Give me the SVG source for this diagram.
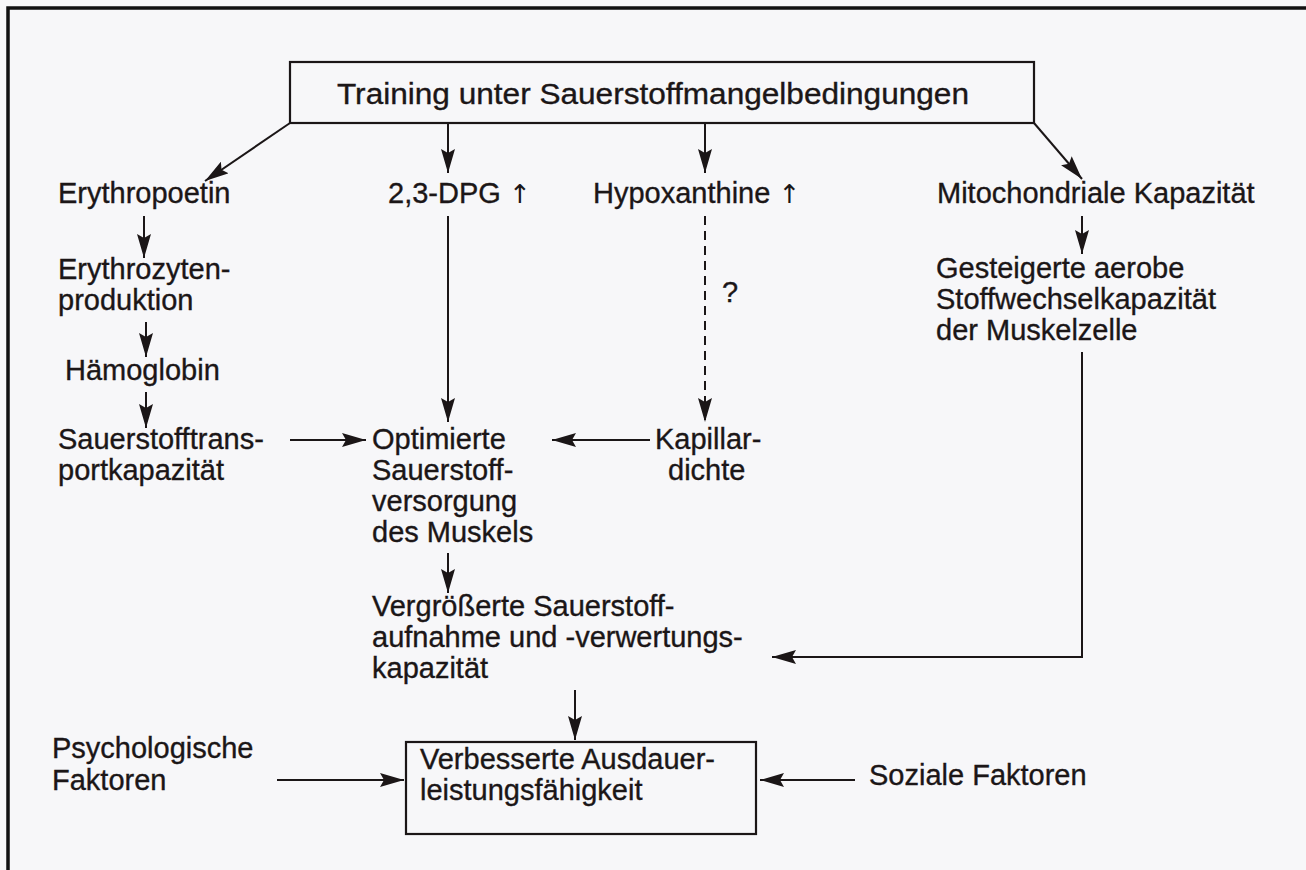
<svg xmlns="http://www.w3.org/2000/svg" width="1306" height="870" viewBox="0 0 1306 870">
<style>
text{font-family:"Liberation Sans",Arial,sans-serif;font-size:29px;fill:#1b1617;stroke:#1b1617;stroke-width:0.35}
.arr{font-family:"DejaVu Sans","Liberation Sans",sans-serif;font-size:26px;stroke-width:0}
.ln{stroke:#1b1617;stroke-width:2;fill:none}
.dash{stroke-dasharray:9 6}
.box{fill:none;stroke:#1b1617;stroke-width:2.2}
</style>
<defs>
<marker id="ah" viewBox="0 0 24 14" refX="24" refY="7" markerWidth="24" markerHeight="14" markerUnits="userSpaceOnUse" orient="auto">
<path d="M0,0 L24,7 L0,14 L4,7 z" fill="#1b1617"/>
</marker>
</defs>
<rect width="1306" height="870" fill="#f7f7f9"/>
<path d="M8,870 V8 H1306" stroke="#111" stroke-width="3.5" fill="none"/>

<g id="connectors">
<line class="ln" x1="290" y1="123" x2="205" y2="181" marker-end="url(#ah)"/>
<line class="ln" x1="448" y1="123" x2="448" y2="173" marker-end="url(#ah)"/>
<line class="ln" x1="705" y1="123" x2="705" y2="173" marker-end="url(#ah)"/>
<line class="ln" x1="1034" y1="123" x2="1082" y2="179" marker-end="url(#ah)"/>
<line class="ln" x1="144" y1="216" x2="144" y2="258" marker-end="url(#ah)"/>
<line class="ln" x1="146" y1="322" x2="146" y2="357" marker-end="url(#ah)"/>
<line class="ln" x1="146" y1="392" x2="146" y2="428" marker-end="url(#ah)"/>
<line class="ln" x1="448" y1="216" x2="448" y2="422" marker-end="url(#ah)"/>
<line class="ln dash" x1="705" y1="216" x2="705" y2="422" marker-end="url(#ah)"/>
<line class="ln" x1="1082" y1="216" x2="1082" y2="254" marker-end="url(#ah)"/>
<polyline class="ln" points="1082,352 1082,657 772,657" marker-end="url(#ah)"/>
<line class="ln" x1="290" y1="440" x2="366" y2="440" marker-end="url(#ah)"/>
<line class="ln" x1="650" y1="440" x2="552" y2="440" marker-end="url(#ah)"/>
<line class="ln" x1="448" y1="553" x2="448" y2="593" marker-end="url(#ah)"/>
<line class="ln" x1="575" y1="690" x2="575" y2="740" marker-end="url(#ah)"/>
<line class="ln" x1="277" y1="780" x2="404" y2="780" marker-end="url(#ah)"/>
<line class="ln" x1="855" y1="780" x2="760" y2="780" marker-end="url(#ah)"/>
<text x="722" y="302">?</text>
</g>

<g id="n-training">
<rect class="box" x="290" y="62" width="744" height="61"/>
<text x="337" y="104" textLength="632" lengthAdjust="spacingAndGlyphs">Training unter Sauerstoffmangelbedingungen</text>
</g>
<g id="n-erythropoetin"><text x="58" y="203">Erythropoetin</text></g>
<g id="n-dpg"><text x="388" y="203">2,3-DPG <tspan class="arr">↑</tspan></text></g>
<g id="n-hypoxanthine"><text x="593" y="203">Hypoxanthine <tspan class="arr">↑</tspan></text></g>
<g id="n-mito"><text x="937" y="203">Mitochondriale Kapazität</text></g>
<g id="n-erythrozyten"><text x="58" y="279">Erythrozyten-</text><text x="58" y="310">produktion</text></g>
<g id="n-haemoglobin"><text x="65" y="380">Hämoglobin</text></g>
<g id="n-gesteigerte"><text x="936" y="278">Gesteigerte aerobe</text><text x="936" y="309">Stoffwechselkapazität</text><text x="936" y="340">der Muskelzelle</text></g>
<g id="n-transport"><text x="58" y="449">Sauerstofftrans-</text><text x="58" y="480">portkapazität</text></g>
<g id="n-optimierte"><text x="372" y="449">Optimierte</text><text x="372" y="480">Sauerstoff-</text><text x="372" y="511">versorgung</text><text x="372" y="542">des Muskels</text></g>
<g id="n-kapillar"><text x="655" y="449">Kapillar-</text><text x="668" y="480">dichte</text></g>
<g id="n-vergroesserte"><text x="372" y="616">Vergrößerte Sauerstoff-</text><text x="372" y="647">aufnahme und -verwertungs-</text><text x="372" y="678">kapazität</text></g>
<g id="n-psych"><text x="52" y="758">Psychologische</text><text x="52" y="790">Faktoren</text></g>
<g id="n-ausdauer">
<rect class="box" x="406" y="742" width="350" height="92"/>
<text x="420" y="769">Verbesserte Ausdauer-</text><text x="420" y="800">leistungsfähigkeit</text>
</g>
<g id="n-sozial"><text x="869" y="785">Soziale Faktoren</text></g>
</svg>
